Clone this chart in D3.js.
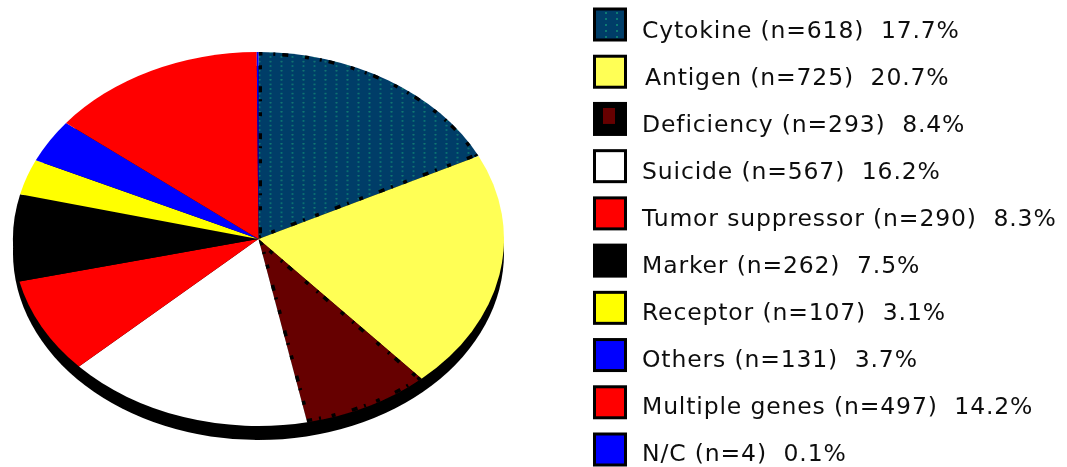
<!DOCTYPE html>
<html>
<head>
<meta charset="utf-8">
<script src="https://cdn.jsdelivr.net/npm/d3@7"></script>
<style>
html, body { margin: 0; padding: 0; background: #fff; }
svg { display: block; }
text { font-family: "DejaVu Sans", sans-serif; font-size: 23.5px; letter-spacing: 0.85px; fill: #111; white-space: pre; }
</style>
</head>
<body>
<svg id="chart"></svg>
<script>
var categories = ["Cytokine", "Antigen", "Deficiency", "Suicide", "Tumor suppressor",
                  "Marker", "Receptor", "Others", "Multiple genes", "N/C"];
var counts = [618, 725, 293, 567, 290, 262, 107, 131, 497, 4];
var percents = ["17.7", "20.7", "8.4", "16.2", "8.3", "7.5", "3.1", "3.7", "14.2", "0.1"];
var fills = ["url(#cytokine)", "#ffff55", "#660000", "#fff", "#f00",
             "#000", "#ff0", "#00f", "#f00", "#00f"];

var width = 1067;
var height = 467;

var svg = d3.select("#chart")
            .attr("width", width)
            .attr("height", height);

var defs = svg.append("defs");

// the reference is a soft upscaled bitmap
defs.append("filter")
    .attr("id", "soft")
    .attr("x", 0).attr("y", 0)
    .attr("width", 1).attr("height", 1)
    .attr("filterUnits", "objectBoundingBox")
    .append("feGaussianBlur")
    .attr("stdDeviation", 0.6);

var cyto = defs.append("pattern")
                .attr("id", "cytokine")
                .attr("patternUnits", "userSpaceOnUse")
                .attr("width", 11)
                .attr("height", 6);
cyto.append("rect")
    .attr("width", 11)
    .attr("height", 6)
    .attr("fill", "#003c68");
cyto.append("rect")
    .attr("width", 2)
    .attr("height", 2)
    .attr("fill", "#0f7a72");

// pie is an ellipse, so draw round and squash it
var cx = 258.5;
var cy = 239;
var rx = 245.5;
var ry = 187;
var depth = 14;

var pie = d3.pie().sort(null).value(function(d) { return d; });
var arc = d3.arc().innerRadius(0).outerRadius(rx);
var slices = pie(counts);
var speckled = slices.filter(function(d) { return d.index == 0 || d.index == 2; });

defs.selectAll("clipPath")
    .data(speckled)
    .enter()
    .append("clipPath")
    .attr("id", function(d) { return "clip" + d.index; })
    .append("path")
    .attr("d", arc);

var root = svg.append("g")
                .attr("filter", "url(#soft)");

// white backing so the blur has the whole page to work on
root.append("rect")
    .attr("width", width)
    .attr("height", height)
    .attr("fill", "#fff");

root.append("ellipse")
    .attr("cx", cx)
    .attr("cy", cy + depth)
    .attr("rx", rx)
    .attr("ry", ry)
    .attr("fill", "#000");

var pieGroup = root.append("g")
    .attr("transform", "translate(" + cx + "," + cy + ") scale(1," + (ry / rx) + ")");

pieGroup.selectAll("path.slice")
    .data(slices)
    .enter()
    .append("path")
    .attr("class", "slice")
    .attr("d", arc)
    .attr("fill", function(d, i) { return fills[i]; });

// black speckle along the inside edges of the two dithered slices
pieGroup.selectAll("path.speckle")
    .data(speckled)
    .enter()
    .append("path")
    .attr("class", "speckle")
    .attr("d", arc)
    .attr("clip-path", function(d) { return "url(#clip" + d.index + ")"; })
    .attr("fill", "none")
    .attr("stroke", "#000")
    .attr("stroke-width", 7)
    .attr("stroke-dasharray", "4 11 2 7 6 17")
    .attr("vector-effect", "non-scaling-stroke");

// legend
var yScale = d3.scalePoint()
                .domain(categories)
                .range([24.5, 449.5]);
var textScale = d3.scalePoint()
                .domain(categories)
                .range([37.5, 461]);
var swatch = 31;

var rows = root.append("g")
                .selectAll("g")
                .data(categories)
                .enter()
                .append("g");

rows.append("rect")
    .attr("x", 594.5)
    .attr("y", function(d) { return yScale(d) - swatch / 2; })
    .attr("width", swatch)
    .attr("height", swatch)
    .attr("fill", function(d, i) { return d == "Deficiency" ? "#000" : fills[i]; })
    .attr("stroke", "#000")
    .attr("stroke-width", 3);

// deficiency swatch is nearly all black with a small red patch
rows.filter(function(d) { return d == "Deficiency"; })
    .append("rect")
    .attr("x", 603)
    .attr("y", function(d) { return yScale(d) - 11; })
    .attr("width", 12)
    .attr("height", 16)
    .attr("fill", "#660000");

rows.append("text")
    .attr("x", function(d) { return d == "Antigen" ? 645 : 642; })
    .attr("y", function(d) { return textScale(d); })
    .text(function(d, i) { return d + " (n=" + counts[i] + ")  " + percents[i] + "%"; });
</script>
</body>
</html>
